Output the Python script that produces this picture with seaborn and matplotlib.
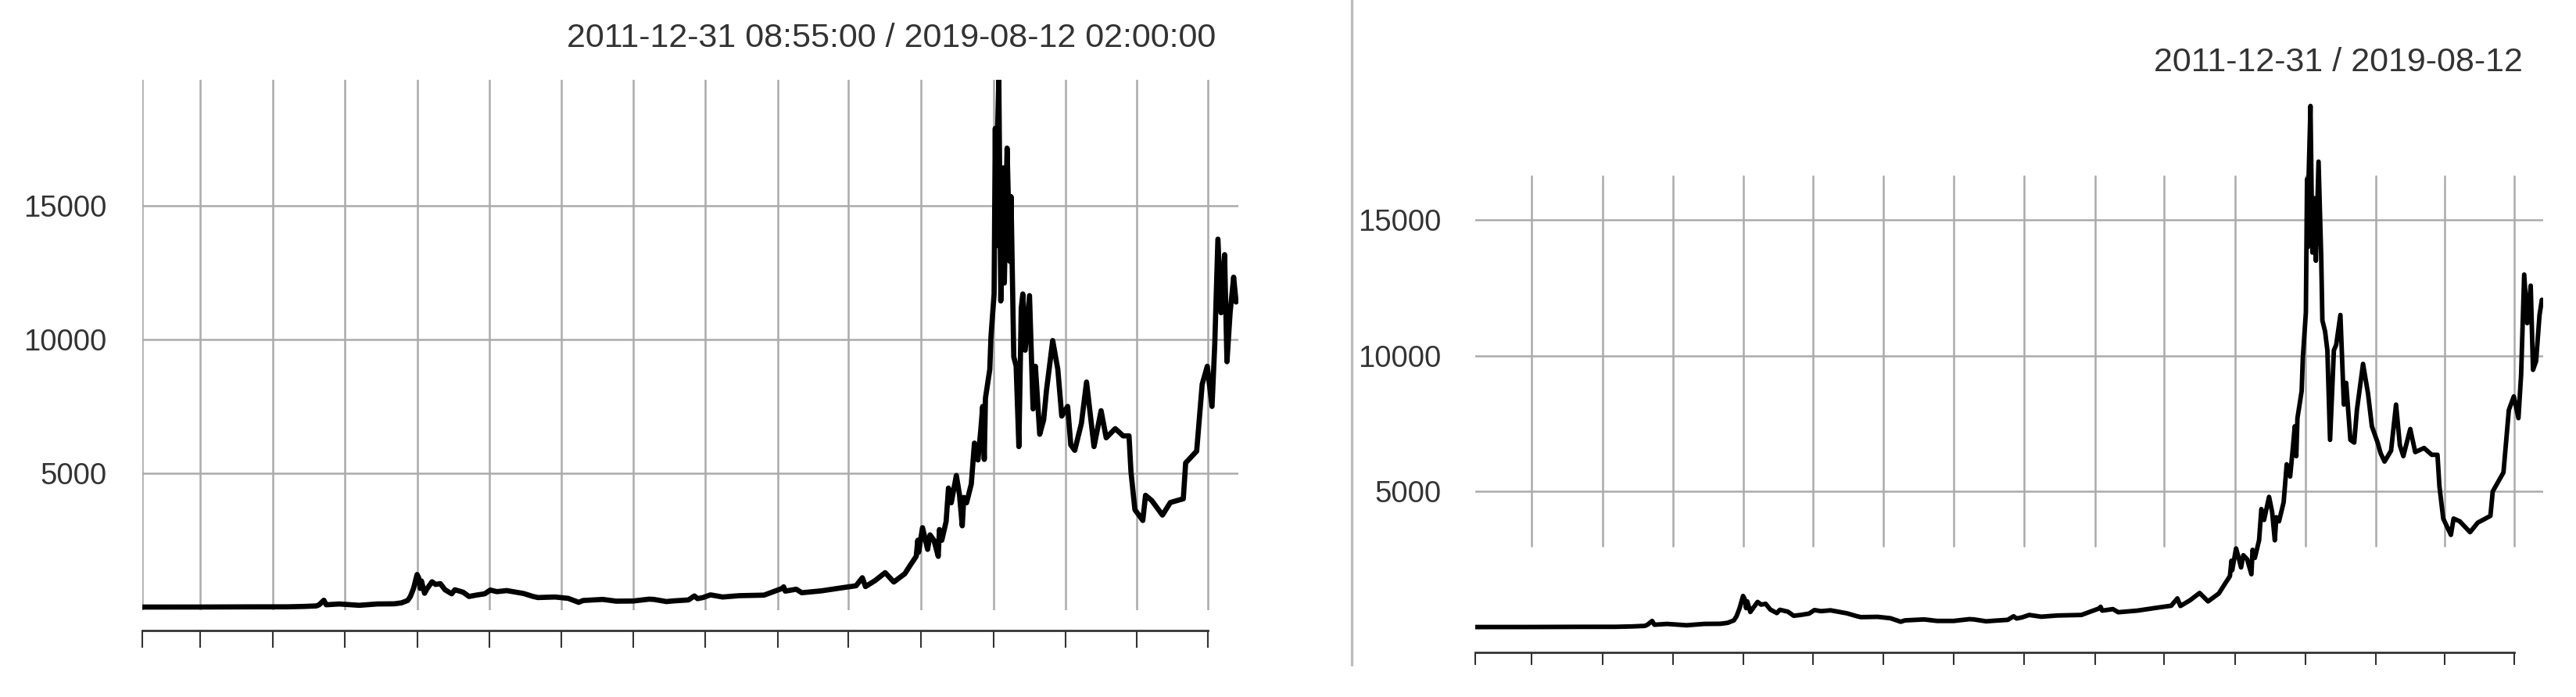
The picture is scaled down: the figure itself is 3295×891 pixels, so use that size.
import pandas as pd
import seaborn as sns
import matplotlib.pyplot as plt
import matplotlib.dates as mdates
from matplotlib.lines import Line2D

# price series (USD)
dates = [
    '2011-12-31 08:55', '2012-03-01', '2012-06-01', '2012-08-15', '2012-10-01', '2013-01-01',
    '2013-02-15', '2013-03-18', '2013-03-25', '2013-04-06', '2013-04-12', '2013-05-15',
    '2013-07-05', '2013-08-20', '2013-10-01', '2013-10-20', '2013-11-05', '2013-11-12',
    '2013-11-20', '2013-11-29', '2013-12-03', '2013-12-07', '2013-12-10', '2013-12-18',
    '2013-12-24', '2014-01-06', '2014-01-15', '2014-01-27', '2014-02-08', '2014-02-16',
    '2014-02-25', '2014-03-05', '2014-03-26', '2014-04-10', '2014-04-28', '2014-05-20',
    '2014-06-03', '2014-06-20', '2014-07-15', '2014-08-27', '2014-09-20', '2014-10-02',
    '2014-11-15', '2014-12-18', '2015-01-14', '2015-01-25', '2015-03-16', '2015-04-19',
    '2015-06-01', '2015-07-12', '2015-07-24', '2015-08-25', '2015-09-12', '2015-10-20',
    '2015-11-04', '2015-11-12', '2015-11-26', '2015-12-15', '2016-01-15', '2016-02-26',
    '2016-04-29', '2016-06-14', '2016-06-18', '2016-06-22', '2016-07-20', '2016-08-03',
    '2016-09-22', '2016-11-11', '2016-12-19', '2017-01-04', '2017-01-12', '2017-02-06',
    '2017-03-03', '2017-03-25', '2017-04-22', '2017-05-05', '2017-05-21', '2017-05-25',
    '2017-05-27', '2017-06-06', '2017-06-12', '2017-06-19', '2017-06-25', '2017-07-05',
    '2017-07-16', '2017-07-19', '2017-07-25', '2017-08-05', '2017-08-11', '2017-08-18',
    '2017-08-31', '2017-09-08', '2017-09-15', '2017-09-19', '2017-09-26', '2017-10-08',
    '2017-10-16', '2017-10-25', '2017-11-01', '2017-11-06', '2017-11-10', '2017-11-13',
    '2017-11-24', '2017-11-27', '2017-12-05', '2017-12-08', '2017-12-10', '2017-12-12',
    '2017-12-17', '2017-12-22', '2017-12-28', '2017-12-31', '2018-01-07', '2018-01-14',
    '2018-01-17', '2018-01-24', '2018-01-30', '2018-02-06', '2018-02-12', '2018-02-16',
    '2018-02-22', '2018-03-05', '2018-03-14', '2018-03-20', '2018-03-31', '2018-04-10',
    '2018-04-17', '2018-05-03', '2018-05-16', '2018-05-26', '2018-06-10', '2018-06-18',
    '2018-06-28', '2018-07-15', '2018-07-28', '2018-08-07', '2018-08-16', '2018-09-03',
    '2018-09-16', '2018-10-09', '2018-10-29', '2018-11-13', '2018-11-18', '2018-11-28',
    '2018-12-18', '2018-12-25', '2019-01-10', '2019-02-06', '2019-02-26', '2019-03-31',
    '2019-04-06', '2019-05-04', '2019-05-18', '2019-05-31', '2019-06-12', '2019-06-19',
    '2019-06-27', '2019-07-05', '2019-07-14', '2019-07-20', '2019-07-28', '2019-08-06',
    '2019-08-12 02:00',
]
# intraday series (left panel)
price = [
    4.7, 5, 6, 11, 12, 13,
    28, 47, 90, 260, 90, 120,
    70, 120, 125, 160, 250, 400,
    700, 1220, 1100, 700, 980, 520,
    680, 950, 850, 880, 650, 580,
    500, 650, 560, 400, 450, 500,
    640, 580, 620, 510, 400, 360,
    380, 330, 180, 250, 290, 225,
    230, 300, 290, 210, 235, 270,
    420, 320, 360, 460, 380, 430,
    450, 700, 760, 600, 670, 540,
    610, 720, 800, 1100, 770, 1000,
    1290, 940, 1250, 1550, 1900, 2500,
    2050, 2970, 2600, 2160, 2700, 2500,
    1900, 2900, 2500, 3200, 4450, 3900,
    4920, 4200, 3040, 4100, 3900, 4600,
    6130, 5500, 6600, 7500, 5520, 7810,
    8880, 10090, 11700, 17890, 13500, 16680,
    19700, 11440, 16410, 12110, 17150, 12920,
    15340, 9350, 9010, 6000, 11170, 11700,
    9600, 11640, 7410, 9000, 6460, 7000,
    8080, 9960, 8880, 7140, 7500, 6060,
    5860, 6870, 8410, 7140, 6000, 7340,
    6330, 6670, 6400, 6400, 5050, 3640,
    3240, 4180, 3980, 3440, 3910, 4050,
    5390, 5830, 8330, 9000, 7500, 9830,
    13750, 11000, 13170, 9170, 11000, 12330,
    11400,
]
# daily close series (right panel)
daily_close = [
    4.7, 5, 6, 11, 12, 13,
    28, 47, 90, 230, 90, 120,
    70, 120, 125, 160, 250, 400,
    700, 1150, 1050, 700, 950, 560,
    680, 930, 830, 860, 650, 590,
    520, 640, 570, 420, 450, 500,
    630, 590, 620, 510, 410, 370,
    380, 330, 200, 250, 285, 230,
    230, 295, 285, 215, 235, 270,
    400, 320, 360, 450, 385, 430,
    450, 690, 750, 610, 665, 550,
    610, 715, 790, 1060, 780, 990,
    1260, 950, 1240, 1530, 1880, 2450,
    2100, 2900, 2600, 2200, 2650, 2500,
    1950, 2850, 2550, 3200, 4350, 3950,
    4800, 4250, 3200, 4050, 3900, 4600,
    6000, 5550, 6600, 7400, 6300, 7700,
    8700, 9900, 11600, 16500, 14000, 16500,
    19200, 13800, 15800, 13500, 17150, 13600,
    11300, 10900, 10200, 6900, 8900, 10200,
    10400, 11500, 8200, 9000, 6900, 6800,
    8000, 9700, 8600, 7400, 6800, 6400,
    6100, 6500, 8200, 6700, 6300, 7300,
    6450, 6600, 6350, 6350, 5200, 4000,
    3400, 4000, 3900, 3500, 3850, 4100,
    5000, 5700, 8000, 8500, 7700, 9300,
    12990, 11200, 12580, 9480, 9800, 11500,
    12060,
]

grid_dates = ['2011-12-31 08:55', '2012-05-27', '2012-11-28', '2013-05-30', '2013-11-30',
              '2014-05-31', '2014-11-30', '2015-06-02', '2015-12-02', '2016-06-04',
              '2016-11-30', '2017-06-03', '2017-12-03', '2018-06-05', '2018-12-02',
              '2019-06-02']
ytick_vals = [5000, 10000, 15000]
ytick_labels = ['5000', '10000', '15000']
title_left = '2011-12-31 08:55:00 / 2019-08-12 02:00:00'
title_right = '2011-12-31 / 2019-08-12'

times = pd.to_datetime(dates, format='ISO8601')
df_left = pd.DataFrame({'time': times, 'price': price})
df_right = pd.DataFrame({'time': times, 'price': daily_close})
grid = pd.to_datetime(grid_dates, format='ISO8601')
t0 = times[0]

sns.set_style('white')
plt.rcParams['font.family'] = ['Liberation Sans', 'DejaVu Sans']

W, H = 3295, 891
def box(x0, y0, x1, y1):
    return [x0 / W, 1 - y1 / H, (x1 - x0) / W, (y1 - y0) / H]

fig = plt.figure(figsize=(W / 100, H / 100), dpi=100)
grid_col = '#aaaaaa'
txt_col = '#333333'

panels = [
    dict(df=df_left, main=(182, 101.6, 1584, 779.6), ylim=(-100, 19714), span=2786.6, lw=4.8,
         vext=(0, 1), axis=(182, 805.6, 1584, 860), tlen=16, pad=33, first=True),
    dict(df=df_right, main=(1886.7, 116.4, 3253.2, 805.2), ylim=(-100, 19750), span=2784.5, lw=4.2,
         vext=(0.156, 0.842), axis=(1886.7, 833.8, 3253.2, 860), tlen=11.5, pad=31, first=False),
]

for p in panels:
    ax = fig.add_axes(box(*p['main']))
    xlim = (t0, t0 + pd.Timedelta(days=p['span']))
    for g in (grid if p['first'] else grid[1:]):
        ax.axvline(g, ymin=p['vext'][0], ymax=p['vext'][1], color=grid_col, lw=1.8, zorder=1)
    for v in ytick_vals:
        ax.axhline(v, color=grid_col, lw=1.8, zorder=1)
    sns.lineplot(data=p['df'], x='time', y='price', ax=ax, color='black', lw=p['lw'], zorder=3)
    ax.set_xlim(xlim)
    ax.set_ylim(p['ylim'])
    ax.set_xticks([])
    ax.set_yticks(ytick_vals)
    ax.set_yticklabels(ytick_labels)
    ax.tick_params(axis='y', length=0, pad=p['pad'], labelsize=27.5, labelcolor=txt_col)
    ax.set_xlabel('')
    ax.set_ylabel('')
    for s in ax.spines.values():
        s.set_visible(False)
    ax.patch.set_alpha(0)

    axx = fig.add_axes(box(*p['axis']))
    axx.set_xlim(xlim)
    axx.patch.set_alpha(0)
    for name, s in axx.spines.items():
        s.set_visible(name == 'top')
    axx.spines['top'].set_color(txt_col)
    axx.spines['top'].set_linewidth(2.0)
    axx.spines['top'].set_bounds(mdates.date2num(grid[0]), mdates.date2num(grid[-1]))
    axx.xaxis.tick_top()
    axx.set_xticks(mdates.date2num(grid))
    axx.set_xticklabels([])
    axx.set_yticks([])
    axx.tick_params(axis='x', direction='in', length=p['tlen'], width=1.5, color=txt_col)

fig.text(1555 / W, 1 - 48.5 / H, title_left, ha='right', va='center', fontsize=31, color=txt_col)
fig.text(3227 / W, 1 - 80 / H, title_right, ha='right', va='center', fontsize=31, color=txt_col)
fig.add_artist(Line2D([1729 / W, 1729 / W], [1, 1 - 850 / H], transform=fig.transFigure,
                      color='#bdbdbd', lw=2.4))

fig.savefig('out.png', dpi=100)
